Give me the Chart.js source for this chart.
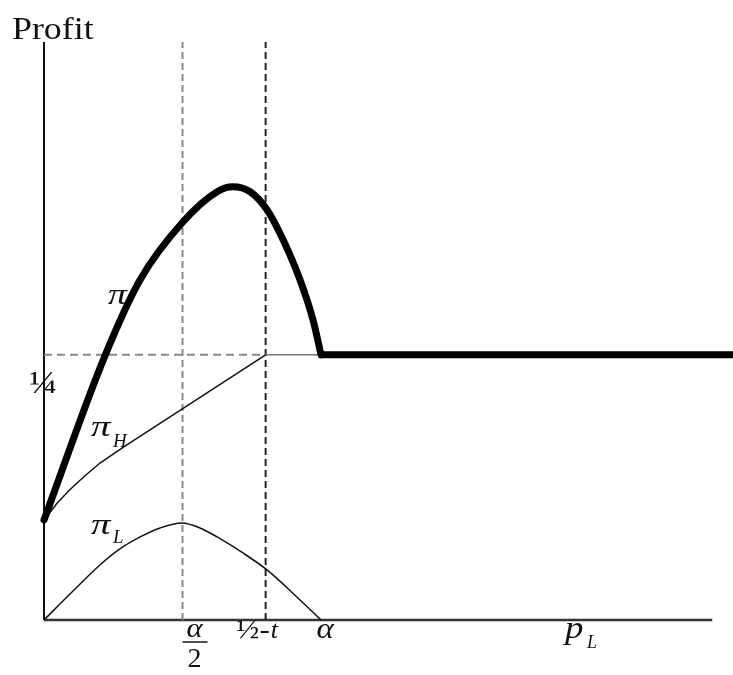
<!DOCTYPE html>
<html>
<head>
<meta charset="utf-8">
<script src="https://cdn.jsdelivr.net/npm/chart.js@4"></script>
<style>
	body { margin: 0; background: #ffffff; }
	canvas { display: block; }
</style>
</head>
<body>
<canvas id="profitChart" width="733" height="675"></canvas>
<script>
// x in units of alpha (alpha = 1), y is profit
const profitX = [0, 0.217, 0.347, 0.502, 0.625, 0.682, 0.744, 0.805, 0.863, 0.924, 0.971, 1.0];
const profitY = [0.0943, 0.2472, 0.3208, 0.3755, 0.4038, 0.4085, 0.4038, 0.3868, 0.3585, 0.3208, 0.2830, 0.25];
const flatX = [1.0, 2.487];
const flatY = [0.25, 0.25];

const piHX = [0, 0.047, 0.094, 0.148, 0.202, 0.292, 0.8, 1.0];
const piHY = [0.094, 0.110, 0.123, 0.136, 0.148, 0.164, 0.25, 0.25];

const piLX = [0, 0.101, 0.202, 0.274, 0.347, 0.419, 0.498, 0.563, 0.625, 0.718, 0.805, 0.924, 1.0];
const piLY = [0, 0.0264, 0.0519, 0.0670, 0.0783, 0.0868, 0.0915, 0.0868, 0.0783, 0.0632, 0.0472, 0.0189, 0];

// guide values
const halfAlpha = 0.5;
const halfMinusT = 0.8;
const quarter = 0.25;
const xAxisEnd = 2.412;
const xMax = 2.487;
const yMax = 0.545;

function toPoints(xs, ys) {
	return xs.map((x, i) => ({ x: x, y: ys[i] }));
}

//text a bit wider than the font, like the scanned figure
function wideText(ctx, text, x, y, sx) {
	ctx.save();
	ctx.translate(x, y);
	ctx.scale(sx, 1);
	ctx.fillText(text, 0, 0);
	ctx.restore();
}

//draws the axis words and tick labels
const labelPlugin = {
	id: 'labels',
	afterDraw(chart) {
		const ctx = chart.ctx;
		const xs = chart.scales.x;
		const ys = chart.scales.y;
		const x0 = xs.getPixelForValue(0);
		const y0 = ys.getPixelForValue(0);
		const serif = '"Liberation Serif", "DejaVu Serif", serif';
		ctx.save();
		ctx.fillStyle = '#111';
		ctx.textBaseline = 'alphabetic';

		ctx.textAlign = 'left';
		ctx.font = '32px ' + serif;
		wideText(ctx, 'Profit', 12, 39, 1.12);

		ctx.textAlign = 'center';
		ctx.font = '32px ' + serif;
		wideText(ctx, '\u00BC', x0 - 1, ys.getPixelForValue(quarter) + 38, 1.15);

		// alpha / 2
		const xa2 = xs.getPixelForValue(halfAlpha) + 12;
		ctx.font = 'italic 28px ' + serif;
		wideText(ctx, '\u03B1', xa2, y0 + 17, 1.1);
		ctx.strokeStyle = '#111';
		ctx.lineWidth = 1.5;
		ctx.beginPath();
		ctx.moveTo(xa2 - 12, y0 + 22);
		ctx.lineTo(xa2 + 13, y0 + 22);
		ctx.stroke();
		ctx.font = '28px ' + serif;
		ctx.fillText('2', xa2, y0 + 47);

		// 1/2 - t
		const xt = xs.getPixelForValue(halfMinusT);
		ctx.textAlign = 'right';
		ctx.font = '28px ' + serif;
		wideText(ctx, '\u00BD-', xt + 4, y0 + 18, 1.1);
		ctx.textAlign = 'left';
		ctx.font = 'italic 26px ' + serif;
		ctx.fillText('t', xt + 5, y0 + 18);

		// alpha
		ctx.textAlign = 'center';
		ctx.font = 'italic 30px ' + serif;
		wideText(ctx, '\u03B1', xs.getPixelForValue(1.0) + 4, y0 + 18, 1.1);

		// p_L
		ctx.textAlign = 'left';
		ctx.font = 'italic 32px ' + serif;
		wideText(ctx, 'p', 565, y0 + 18, 1.15);
		ctx.font = 'italic 18px ' + serif;
		ctx.fillText('L', 587, y0 + 28);

		// curve names
		ctx.font = 'italic 30px ' + serif;
		wideText(ctx, '\u03C0', 108, 304, 1.25);
		wideText(ctx, '\u03C0', 91, 436, 1.3);
		wideText(ctx, '\u03C0', 91, 534, 1.3);
		ctx.font = 'italic 19px ' + serif;
		ctx.fillText('H', 113, 447);
		ctx.fillText('L', 113, 543);
		ctx.restore();
	}
};

const ctx = document.getElementById('profitChart').getContext('2d');
new Chart(ctx, {
	type: 'line',
	data: {
		datasets: [
			{
				data: toPoints(profitX, profitY),
				borderColor: '#000',
				borderWidth: 7,
				cubicInterpolationMode: 'monotone',
				borderCapStyle: 'round',
				borderJoinStyle: 'round',
			},
			{
				data: toPoints(flatX, flatY),
				borderColor: '#000',
				borderWidth: 7,
			},
			{
				data: toPoints(piHX, piHY),
				borderColor: '#111',
				borderWidth: 1.5,
				segment: {
					borderColor: (c) => c.p0.parsed.x >= halfMinusT ? '#777' : '#111',
				},
			},
			{
				data: toPoints(piLX, piLY),
				borderColor: '#111',
				borderWidth: 1.5,
				cubicInterpolationMode: 'monotone',
			},
			{
				data: toPoints([halfAlpha, halfAlpha], [0, yMax]),
				borderColor: '#888',
				borderWidth: 2,
				borderDash: [7, 4],
			},
			{
				data: toPoints([halfMinusT, halfMinusT], [0, yMax]),
				borderColor: '#222',
				borderWidth: 2,
				borderDash: [7, 4],
			},
			{
				data: toPoints([0, halfMinusT], [quarter, quarter]),
				borderColor: '#888',
				borderWidth: 2,
				borderDash: [8, 5],
			},
			{
				data: toPoints([0, 0], [0, yMax]),
				borderColor: '#111',
				borderWidth: 2,
			},
			{
				data: toPoints([0, xAxisEnd], [0, 0]),
				borderColor: '#333',
				borderWidth: 2.5,
			},
		],
	},
	options: {
		responsive: false,
		animation: false,
		layout: {
			padding: { left: 44, top: 42, right: 0, bottom: 55 },
		},
		elements: {
			point: { radius: 0 },
			line: { tension: 0 },
		},
		datasets: {
			line: { clip: false, fill: false },
		},
		scales: {
			x: { type: 'linear', min: 0, max: xMax, display: false },
			y: { min: 0, max: yMax, display: false },
		},
		plugins: {
			legend: { display: false },
			tooltip: { enabled: false },
		},
	},
	plugins: [labelPlugin],
});
</script>
</body>
</html>
